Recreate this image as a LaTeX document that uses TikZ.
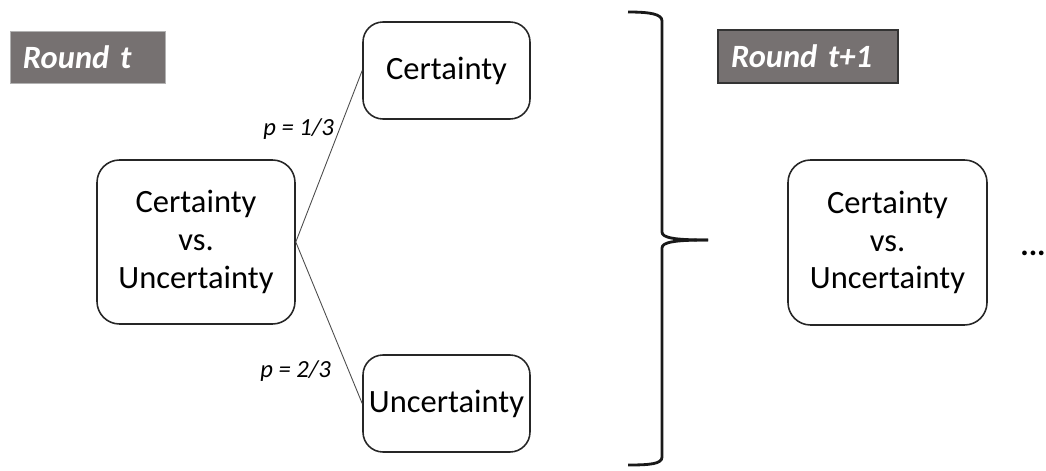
\documentclass[tikz,border=0pt]{standalone}
\usepackage{fontspec}
\setmainfont{Carlito}
\usepackage{tikz}
\usetikzlibrary{calc}
\definecolor{roundgray}{HTML}{767171}
\definecolor{boxline}{HTML}{262626}
\tikzset{
	state/.style={draw=boxline, line width=0.9pt, rounded corners=0.45cm, align=center, font=\fontsize{18.5}{21.5}\selectfont},
	roundbox/.style={fill=roundgray, align=left, inner xsep=0.26cm, font=\fontsize{18.5}{21.5}\selectfont\bfseries\itshape, text=white},
	prob/.style={font=\fontsize{14}{16}\selectfont\itshape, inner sep=3pt},
	branch/.style={draw=black!70, line width=0.5pt}
}

\begin{document}
\begin{tikzpicture}
			%%%%% START %%%%%
			
			\useasboundingbox (0, 0) rectangle (20.92, 9.4);
			
			\node[roundbox, draw=black!30, line width=0.4pt, minimum width=3.1cm, minimum height=1.04cm, text width=2.58cm] (roundt) at (1.75, 8.26) {Round t};
			\node[roundbox, draw=black!80, line width=0.9pt, minimum width=3.6cm, minimum height=1.06cm, text width=3.08cm] (roundnext) at (16.16, 8.27) {Round t+1};
			
			\node[state, minimum width=3.96cm, minimum height=3.28cm] (choice) at (3.92, 4.56) {Certainty\\vs.\\Uncertainty};
			\node[state, rounded corners=0.4cm, minimum width=3.34cm, minimum height=1.94cm] (cert) at (8.93, 7.99) {Certainty};
			\node[state, rounded corners=0.4cm, minimum width=3.34cm, minimum height=1.94cm] (unc) at (8.93, 1.33) {Uncertainty};
			
			\draw[branch] (choice.east) -- node[prob, pos=0.66, left] {p = 1/3} (cert.west);
			\draw[branch] (choice.east) -- node[prob, pos=0.8, left=7pt] {p = 2/3} (unc.west);
			
			% brace
			\draw[line width=1.6pt, color=black!90] (12.56, 9.16) .. controls (13.0, 9.16) and (13.24, 9.12) .. (13.24, 8.98) -- (13.24, 4.76) .. controls (13.24, 4.64) and (13.5, 4.6) .. (14.16, 4.6);
			\draw[line width=1.6pt, color=black!90] (14.16, 4.6) .. controls (13.5, 4.6) and (13.24, 4.56) .. (13.24, 4.44) -- (13.24, 0.26) .. controls (13.24, 0.12) and (13.0, 0.1) .. (12.56, 0.1);
			
			\node[state, minimum width=3.98cm, minimum height=3.3cm] (choicenext) at (17.75, 4.55) {Certainty\\vs.\\Uncertainty};
			\node[font=\fontsize{18}{21.5}\selectfont\bfseries] (more) at (20.66, 4.34) {...};
			
			%%%%% END %%%%%
		\end{tikzpicture}
\end{document}
